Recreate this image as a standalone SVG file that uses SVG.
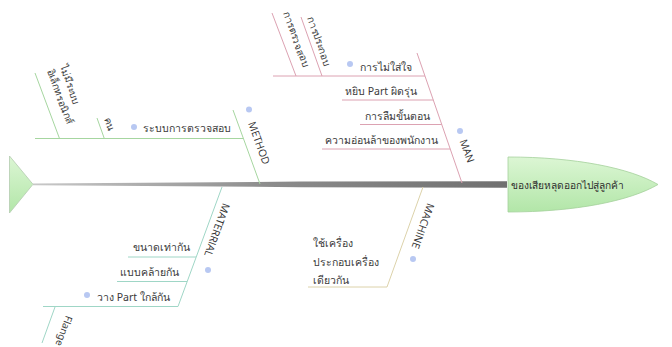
<svg xmlns="http://www.w3.org/2000/svg" width="672" height="347" viewBox="0 0 672 347">
<defs>
<linearGradient id="gGreen" x1="0" y1="0" x2="0" y2="1">
<stop offset="0" stop-color="#dcf6d4"/>
<stop offset="1" stop-color="#b2e6a8"/>
</linearGradient>
<linearGradient id="gSpine" x1="0" y1="0" x2="1" y2="0">
<stop offset="0" stop-color="#c8c8c8"/>
<stop offset="0.5" stop-color="#8c8c8c"/>
<stop offset="1" stop-color="#707070"/>
</linearGradient>
<style>
.t{font-family:"Noto Sans","Open Sans","DejaVu Sans",sans-serif;font-size:10.5px;fill:#3a3a3a}
.s{font-size:10px}
.h{font-size:10.2px;fill:#2e2e2e}
.lbl{font-family:"Open Sans","Noto Sans",sans-serif;font-size:10.5px;fill:#333}
.dot{fill:#b8c8f2}
.method{stroke:#a6d6a0;stroke-width:1;fill:none}
.man{stroke:#dca2b2;stroke-width:1;fill:none}
.machine{stroke:#dcd2aa;stroke-width:1;fill:none}
.material{stroke:#9fd6c6;stroke-width:1;fill:none}
</style>
</defs>
<rect width="672" height="347" fill="#ffffff"/>

<g id="connectors">
<polygon points="33,183.4 300,181.6 507,181.3 507,187.7 300,187.2 33,185.2" fill="url(#gSpine)"/>
<!-- METHOD -->
<line class="method" x1="233" y1="110" x2="260" y2="184"/>
<line class="method" x1="35" y1="138.5" x2="243.3" y2="138.5"/>
<line class="method" x1="97" y1="118" x2="104.3" y2="138.5"/>
<line class="method" x1="35" y1="73" x2="59.5" y2="138.5"/>
<!-- MAN -->
<line class="man" x1="417" y1="53" x2="462" y2="183"/>
<line class="man" x1="273" y1="76" x2="425" y2="76"/>
<line class="man" x1="342" y1="100" x2="433.3" y2="100"/>
<line class="man" x1="360" y1="124.5" x2="441.8" y2="124.5"/>
<line class="man" x1="322" y1="149" x2="450.2" y2="149"/>
<line class="man" x1="272" y1="13" x2="296" y2="76"/>
<line class="man" x1="301" y1="17" x2="322" y2="76"/>
<!-- MACHINE -->
<line class="machine" x1="423" y1="187" x2="387" y2="287"/>
<line class="machine" x1="308" y1="287" x2="387" y2="287"/>
<!-- MATERIAL -->
<line class="material" x1="222" y1="187" x2="178" y2="306.5"/>
<line class="material" x1="128" y1="257" x2="196" y2="257"/>
<line class="material" x1="117" y1="281.5" x2="187" y2="281.5"/>
<line class="material" x1="43" y1="306.5" x2="178" y2="306.5"/>
<line class="material" x1="55" y1="307" x2="42" y2="343"/>
</g>

<g id="node-tail">
<polygon points="9.5,156 33,184.3 9.5,213" fill="url(#gGreen)" stroke="#b4ccb0" stroke-width="0.8"/>
</g>

<g id="node-head">
<path d="M508,157 C575,157 630,168 658,184.5 C630,201 575,212 508,212 Z" fill="url(#gGreen)" stroke="#a4d09c" stroke-width="0.8"/>
<text class="t h" x="511" y="188.5">ของเสียหลุดออกไปสู่ลูกค้า</text>
</g>

<g id="node-method">
<circle class="dot" cx="249" cy="109.5" r="3"/>
<text class="lbl" transform="translate(259,143) rotate(70)" text-anchor="middle" dy="0.35em">METHOD</text>
</g>
<g id="node-method-1">
<circle class="dot" cx="134" cy="127" r="3"/>
<text class="t" x="143" y="132">ระบบการตรวจสอบ</text>
</g>
<g id="node-method-1-1">
<text class="t s" transform="translate(109.5,124) rotate(70)" text-anchor="middle" dy="0.35em">คน</text>
</g>
<g id="node-method-1-2">
<text class="t s" transform="translate(59.5,66) rotate(70)"><tspan x="0" y="0">ไม่มีระบบ</tspan><tspan x="0" y="13.5">อิเล็กทรอนิกส์</tspan></text>
</g>

<g id="node-man">
<circle class="dot" cx="460" cy="131" r="3"/>
<text class="lbl" transform="translate(467,151) rotate(70)" text-anchor="middle" dy="0.35em">MAN</text>
</g>
<g id="node-man-1">
<circle class="dot" cx="350" cy="64" r="3"/>
<text class="t" x="360" y="71">การไม่ใส่ใจ</text>
</g>
<g id="node-man-1-1">
<text class="t s" transform="translate(296,39) rotate(70)" text-anchor="middle" dy="0.35em">การตรวจสอบ</text>
</g>
<g id="node-man-1-2">
<text class="t s" transform="translate(319,41) rotate(70)" text-anchor="middle" dy="0.35em">การประกอบ</text>
</g>
<g id="node-man-2">
<text class="t" x="345" y="95">หยิบ Part ผิดรุ่น</text>
</g>
<g id="node-man-3">
<text class="t" x="365" y="120">การลืมขั้นตอน</text>
</g>
<g id="node-man-4">
<text class="t" x="325" y="144">ความอ่อนล้าของพนักงาน</text>
</g>

<g id="node-machine">
<circle class="dot" cx="413" cy="259" r="3"/>
<text class="lbl" transform="translate(423,226) rotate(110)" text-anchor="middle" dy="0.35em">MACHINE</text>
</g>
<g id="node-machine-1">
<text class="t"><tspan x="313" y="247">ใช้เครื่อง</tspan><tspan x="313" y="266">ประกอบเครื่อง</tspan><tspan x="313" y="284">เดียวกัน</tspan></text>
</g>

<g id="node-material">
<circle class="dot" cx="208" cy="270" r="3"/>
<text class="lbl" transform="translate(217,230) rotate(110)" text-anchor="middle" dy="0.35em">MATERRIAL</text>
</g>
<g id="node-material-1">
<text class="t" x="133" y="251">ขนาดเท่ากัน</text>
</g>
<g id="node-material-2">
<text class="t" x="120" y="276">แบบคล้ายกัน</text>
</g>
<g id="node-material-3">
<circle class="dot" cx="87" cy="295" r="3"/>
<text class="t" x="97" y="301">วาง Part ใกล้กัน</text>
</g>
<g id="node-material-3-1">
<text class="t s" transform="translate(64,331) rotate(110)" text-anchor="middle" dy="0.35em">Flange</text>
</g>
</svg>
